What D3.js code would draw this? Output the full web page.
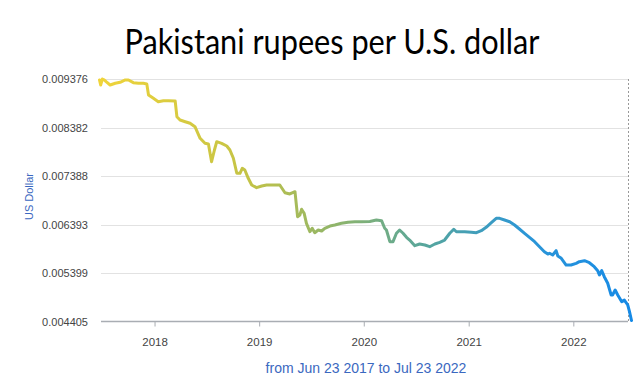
<!DOCTYPE html>
<html>
<head>
<meta charset="utf-8">
<script src="https://cdn.jsdelivr.net/npm/d3@7"></script>
<style>
  html, body { margin: 0; padding: 0; background: #fff; }
  svg { display: block; }
</style>
</head>
<body>
<svg id="chart" width="641" height="389"></svg>
<script>
const titleText = "Pakistani rupees per U.S. dollar";
const yAxisLabel = "US Dollar";
const rangeLabel = "from Jun 23 2017 to Jul 23 2022";
const yTickValues = [0.004405, 0.005399, 0.006393, 0.007388, 0.008382, 0.009376];
const xTickYears = ["2018", "2019", "2020", "2021", "2022"];

const dates = [
  "2017-06-23","2017-06-27","2017-07-03","2017-07-09","2017-07-16","2017-07-30","2017-08-17","2017-09-03",
  "2017-09-21","2017-10-02","2017-10-19","2017-11-06","2017-11-23","2017-12-05","2017-12-11","2017-12-28",
  "2018-01-14","2018-02-01","2018-02-18","2018-03-14","2018-03-20","2018-03-31","2018-04-18","2018-05-05",
  "2018-05-22","2018-06-09","2018-06-26","2018-07-08","2018-07-19","2018-07-29","2018-08-06","2018-08-23",
  "2018-09-10","2018-09-21","2018-10-03","2018-10-15","2018-10-26","2018-11-03","2018-11-12","2018-11-24",
  "2018-12-06","2018-12-23","2019-01-10","2019-01-27","2019-02-13","2019-03-14","2019-04-01","2019-04-18",
  "2019-05-06","2019-05-15","2019-05-23","2019-05-29","2019-06-07","2019-06-15","2019-06-27","2019-07-05",
  "2019-07-14","2019-07-26","2019-08-07","2019-08-18","2019-09-05","2019-09-22","2019-10-15","2019-11-07",
  "2019-12-01","2019-12-24","2020-01-22","2020-02-14","2020-03-03","2020-03-14","2020-03-20","2020-04-01",
  "2020-04-12","2020-04-24","2020-05-05","2020-05-17","2020-05-29","2020-06-09","2020-06-27","2020-07-14",
  "2020-08-01","2020-08-18","2020-09-05","2020-09-22","2020-10-09","2020-10-27","2020-11-10","2020-11-19",
  "2020-11-30","2020-12-18","2021-01-10","2021-01-28","2021-02-14","2021-03-03","2021-03-21","2021-04-07",
  "2021-04-19","2021-05-06","2021-05-24","2021-06-10","2021-06-27","2021-07-15","2021-08-01","2021-08-19",
  "2021-09-05","2021-09-22","2021-10-04","2021-10-10","2021-10-21","2021-11-02","2021-11-08","2021-11-20",
  "2021-12-07","2021-12-24","2022-01-11","2022-01-22","2022-02-09","2022-02-26","2022-03-15","2022-03-27",
  "2022-04-02","2022-04-10","2022-04-19","2022-05-01","2022-05-13","2022-05-18","2022-05-27","2022-06-05",
  "2022-06-19","2022-06-28","2022-07-10","2022-07-16","2022-07-23"
];
const rates = [
  0.009356,0.009253,0.009376,0.009360,0.009321,0.009253,0.009288,0.009308,
  0.009356,0.009356,0.009301,0.009288,0.009288,0.009274,0.009048,0.008981,
  0.008911,0.008932,0.008932,0.008925,0.008604,0.008536,0.008501,0.008469,
  0.008399,0.008161,0.008059,0.008045,0.007682,0.007922,0.008092,0.008059,
  0.008004,0.007922,0.007752,0.007445,0.007445,0.007547,0.007512,0.007342,
  0.007205,0.007150,0.007184,0.007205,0.007205,0.007205,0.007047,0.007021,
  0.007068,0.006556,0.006590,0.006707,0.006625,0.006420,0.006248,0.006318,
  0.006228,0.006283,0.006263,0.006318,0.006365,0.006386,0.006420,0.006441,
  0.006453,0.006453,0.006458,0.006488,0.006474,0.006318,0.006283,0.006044,
  0.006044,0.006216,0.006283,0.006216,0.006134,0.006078,0.005962,0.005996,
  0.005976,0.005941,0.005996,0.006031,0.006078,0.006216,0.006298,0.006248,
  0.006248,0.006248,0.006236,0.006228,0.006269,0.006338,0.006433,0.006523,
  0.006523,0.006488,0.006453,0.006386,0.006304,0.006216,0.006134,0.006044,
  0.005941,0.005839,0.005792,0.005806,0.005771,0.005859,0.005751,0.005704,
  0.005566,0.005566,0.005601,0.005634,0.005654,0.005613,0.005532,0.005450,
  0.005362,0.005450,0.005327,0.005192,0.004952,0.004952,0.005054,0.004952,
  0.004815,0.004849,0.004747,0.004610,0.004430
];

const parse = d3.timeParse("%Y-%m-%d");
const data = dates.map((d, i) => ({ date: parse(d), value: rates[i] }));

const svg = d3.select("#chart");
const x0 = 99.5, x1 = 631.5, yTop = 79, yBot = 321.7, gridRight = 628;

const x = d3.scaleTime()
  .domain([parse("2017-06-23"), parse("2022-07-23")])
  .range([x0, x1]);
const y = d3.scaleLinear()
  .domain([yTickValues[0], yTickValues[yTickValues.length - 1]])
  .range([yBot, yTop]);

// Title
const title = svg.append("text")
  .attr("x", 332).attr("y", 54)
  .attr("text-anchor", "middle")
  .attr("font-family", "Lato, 'Open Sans', sans-serif")
  .attr("font-size", 34)
  .attr("fill", "#000")
  .text(titleText);
const tw = title.node().getComputedTextLength();
if (tw > 415) title.attr("textLength", 415).attr("lengthAdjust", "spacingAndGlyphs");

// Gridlines
svg.append("g").selectAll("line")
  .data(yTickValues.slice(1))
  .join("line")
  .attr("x1", 101).attr("x2", gridRight)
  .attr("y1", d => Math.round(y(d)) + 0.5).attr("y2", d => Math.round(y(d)) + 0.5)
  .attr("stroke", "#e2e2e2").attr("stroke-width", 1);

// Y axis labels
const yAxis = d3.axisLeft(y).tickValues(yTickValues).tickFormat(d3.format(".6f")).tickSize(0).tickPadding(0);
const gy = svg.append("g").attr("transform", "translate(88,0)").call(yAxis);
gy.select(".domain").remove();
gy.selectAll("text")
  .attr("font-family", "Arial, 'Liberation Sans', sans-serif")
  .attr("font-size", 11).attr("fill", "#444");

// Y axis title
svg.append("text")
  .attr("transform", "translate(33,196.5) rotate(-90)")
  .attr("text-anchor", "middle")
  .attr("font-family", "Arial, 'Liberation Sans', sans-serif")
  .attr("font-size", 11).attr("fill", "#3a68c0")
  .text(yAxisLabel);

// X axis
const xAxis = d3.axisBottom(x)
  .tickValues(xTickYears.map(s => parse(s + "-01-01")))
  .tickFormat(d3.timeFormat("%Y"))
  .tickSize(5).tickSizeOuter(0).tickPadding(11);
const gx = svg.append("g").attr("transform", `translate(0,${Math.round(yBot) - 0.5})`).call(xAxis);
gx.select(".domain").attr("d", `M101,0H${gridRight}`).attr("stroke", "#a9adb3").attr("stroke-width", 1.5);
gx.selectAll(".tick line").attr("stroke", "#a9adb3");
gx.selectAll("text")
  .attr("font-family", "Arial, 'Liberation Sans', sans-serif")
  .attr("font-size", 11.5).attr("fill", "#444");

// Dashed cursor line at right
svg.append("line")
  .attr("x1", gridRight + 0.5).attr("x2", gridRight + 0.5)
  .attr("y1", yTop).attr("y2", yBot)
  .attr("stroke", "#999").attr("stroke-width", 1).attr("stroke-dasharray", "2,2");

// Gradient
const defs = svg.append("defs");
const grad = defs.append("linearGradient")
  .attr("id", "lineGrad").attr("gradientUnits", "userSpaceOnUse")
  .attr("x1", x0).attr("x2", x1).attr("y1", 0).attr("y2", 0);
[[0, "#f0d43a"], [0.28, "#c3c346"], [0.45, "#8db46c"], [0.62, "#55a59f"], [0.8, "#2c96d6"], [1, "#168ae6"]]
  .forEach(([o, c]) => grad.append("stop").attr("offset", o).attr("stop-color", c));

// Line
const line = d3.line().x(d => x(d.date)).y(d => y(d.value));
svg.append("path")
  .datum(data)
  .attr("d", line)
  .attr("fill", "none")
  .attr("stroke", "url(#lineGrad)")
  .attr("stroke-width", 3)
  .attr("stroke-linejoin", "round")
  .attr("stroke-linecap", "round");

// Range label
svg.append("text")
  .attr("x", 366).attr("y", 373)
  .attr("text-anchor", "middle")
  .attr("font-family", "Arial, 'Liberation Sans', sans-serif")
  .attr("font-size", 14).attr("fill", "#3a68c0")
  .text(rangeLabel);
</script>
</body>
</html>
